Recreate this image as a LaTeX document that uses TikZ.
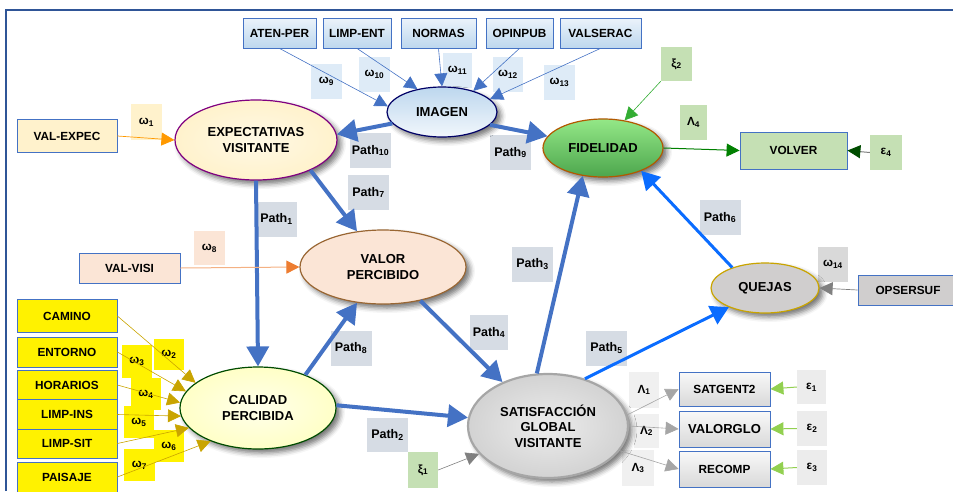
\documentclass[tikz,border=0pt]{standalone}
\usepackage{fontspec}
\setmainfont{Liberation Sans}
\usetikzlibrary{shapes.geometric,arrows.meta,shadows.blur}
\definecolor{framec}{HTML}{2F5597}
\definecolor{boxline}{HTML}{4472C4}
\definecolor{pathblue}{HTML}{4472C4}
\definecolor{brightblue}{HTML}{0A6CFF}
\definecolor{pathgrey}{HTML}{D6DCE4}
\definecolor{lightblue}{HTML}{DEEBF7}
\definecolor{midblue}{HTML}{BDD7EE}
\definecolor{cream}{HTML}{FFF2CC}
\definecolor{peach}{HTML}{FBE5D6}
\definecolor{peachline}{HTML}{F4B183}
\definecolor{orangehead}{HTML}{ED7D31}
\definecolor{gold}{HTML}{C9A400}
\definecolor{lgreen}{HTML}{C5E0B4}
\definecolor{greyfill}{HTML}{D0CECE}
\definecolor{greyline}{HTML}{A6A6A6}
\definecolor{epsgreen}{HTML}{92D050}
\begin{document}
\begin{tikzpicture}[x=1pt,y=-1pt,>={Triangle[length=13pt,width=13pt]},font=\bfseries\fontsize{11.8}{13}\selectfont,
  obs/.style={draw=boxline,line width=0.8pt,inner sep=0pt,align=center},
  lat/.style={ellipse,inner sep=0pt,align=center,font=\bfseries\fontsize{13}{15.5}\selectfont,
    blur shadow={shadow xshift=4pt,shadow yshift=-4pt,shadow blur radius=5pt,shadow opacity=55}},
  lbl/.style={inner sep=0pt,minimum width=31pt,minimum height=35pt},
  pathlbl/.style={lbl,fill=pathgrey,minimum width=41pt,font=\bfseries\fontsize{12.5}{14}\selectfont},
  bigarr/.style={line width=4pt,draw=pathblue,-{Triangle[length=20pt,width=22pt]}},
  bluearr/.style={line width=3pt,draw=brightblue,-{Triangle[length=18pt,width=20pt]}},
  thinarr/.style={line width=0.7pt,->}]
\useasboundingbox (0,0) rectangle (953,491);
\draw[framec,line width=1.2pt] (6,491) -- (6,10) -- (953,10);
% labels
\node[pathlbl] (p10) at (370.5,150.5) {Path\textsubscript{10}};
\node[pathlbl] (p7) at (368.5,192.5) {Path\textsubscript{7}};
\node[pathlbl] (p1) at (276.5,219) {Path\textsubscript{1}};
\node[pathlbl] (p9) at (510.5,152.5) {Path\textsubscript{9}};
\node[pathlbl] (p6) at (720,217.5) {Path\textsubscript{6}};
\node[pathlbl] (p3) at (532.5,264.5) {Path\textsubscript{3}};
\node[pathlbl] (p8) at (351,348) {Path\textsubscript{8}};
\node[pathlbl,minimum width=38pt] (p4) at (489,332.5) {Path\textsubscript{4}};
\node[pathlbl] (p5) at (606.5,348) {Path\textsubscript{5}};
\node[pathlbl,minimum height=34pt] (p2) at (387.5,435) {Path\textsubscript{2}};
\node[lbl,fill=lightblue] (w9) at (326.5,81.5) {ω\textsubscript{9}};
\node[lbl,fill=lightblue] (w10) at (374.5,74.5) {ω\textsubscript{10}};
\node[lbl,fill=lightblue,minimum width=29pt] (w11) at (457.5,70.5) {ω\textsubscript{11}};
\node[lbl,fill=lightblue,minimum width=30pt] (w12) at (508,74.5) {ω\textsubscript{12}};
\node[lbl,fill=lightblue] (w13) at (559.5,82.5) {ω\textsubscript{13}};
\node[lbl,fill=cream,minimum height=36pt] (w1) at (146.5,122) {ω\textsubscript{1}};
\node[lbl,fill=peach,minimum height=34pt] (w8) at (209.5,248) {ω\textsubscript{8}};
\node[lbl,fill=yellow,minimum width=30pt,minimum height=31pt] (w2) at (169,354.5) {ω\textsubscript{2}};
\node[lbl,fill=yellow,minimum width=30pt,minimum height=33pt] (w3) at (137,361.5) {ω\textsubscript{3}};
\node[lbl,fill=yellow,minimum width=30pt,minimum height=32pt] (w4) at (146,394) {ω\textsubscript{4}};
\node[lbl,fill=yellow,minimum width=30pt,minimum height=32pt] (w5) at (139,422) {ω\textsubscript{5}};
\node[lbl,fill=yellow,minimum width=30pt,minimum height=32pt] (w6) at (169,446) {ω\textsubscript{6}};
\node[lbl,fill=yellow,minimum width=31pt,minimum height=32pt] (w7) at (139.5,465) {ω\textsubscript{7}};
\node[lbl,fill=lgreen,minimum height=34pt] (xi2) at (676.5,64) {ξ\textsubscript{2}};
\node[lbl,fill=lgreen,minimum width=27pt] (l4) at (693.5,122.5) {Λ\textsubscript{4}};
\node[lbl,fill=lgreen,minimum width=32pt] (e4) at (886,152.5) {ε\textsubscript{4}};
\node[lbl,fill=lgreen,minimum width=30pt,minimum height=36pt] (xi1) at (423,470) {ξ\textsubscript{1}};
\node[lbl,fill=gray!30,minimum width=30pt] (w14) at (833,264.5) {ω\textsubscript{14}};
\node[lbl,fill=gray!12,minimum width=30pt,minimum height=36pt] (l1) at (644,390) {Λ\textsubscript{1}};
\node[lbl,fill=gray!12,minimum width=25pt,minimum height=34pt] (l2) at (646.5,431) {Λ\textsubscript{2}};
\node[lbl,fill=gray!12,minimum width=32pt,minimum height=36pt] (l3) at (638,468) {Λ\textsubscript{3}};
\node[lbl,fill=gray!15,minimum width=29pt,minimum height=34pt] (e1) at (811.5,387) {ε\textsubscript{1}};
\node[lbl,fill=gray!15,minimum width=30pt] (e2) at (812,428.5) {ε\textsubscript{2}};
\node[lbl,fill=gray!15,minimum width=30pt] (e3) at (812,467.5) {ε\textsubscript{3}};
% observed boxes
\node[obs,top color=lightblue!60,bottom color=midblue,minimum width=73pt,minimum height=30pt] (atenper) at (279.5,33) {ATEN-PER};
\node[obs,top color=lightblue!60,bottom color=midblue,minimum width=68pt,minimum height=30pt] (limpent) at (357,33) {LIMP-ENT};
\node[obs,top color=lightblue!60,bottom color=midblue,minimum width=75pt,minimum height=30pt] (normas) at (438.5,33) {NORMAS};
\node[obs,top color=lightblue!60,bottom color=midblue,minimum width=67pt,minimum height=30pt] (opinpub) at (519.5,33) {OPINPUB};
\node[obs,top color=lightblue!60,bottom color=midblue,minimum width=81pt,minimum height=30pt] (valserac) at (600.5,33) {VALSERAC};
\node[obs,fill=cream,minimum width=100pt,minimum height=33pt] (valexpec) at (67,136) {VAL-EXPEC};
\node[obs,fill=peach,minimum width=101pt,minimum height=30pt] (valvisi) at (129.5,268) {VAL-VISI};
\node[obs,fill=yellow,minimum width=100pt,minimum height=33pt] (camino) at (67,316) {CAMINO};
\node[obs,fill=yellow,minimum width=100pt,minimum height=30pt] (entorno) at (67,352) {ENTORNO};
\node[obs,fill=yellow,minimum width=100pt,minimum height=30pt] (horarios) at (67,385) {HORARIOS};
\node[obs,fill=yellow,minimum width=100pt,minimum height=30pt] (limpins) at (67,414.5) {LIMP-INS};
\node[obs,fill=yellow,minimum width=100pt,minimum height=29pt] (limpsit) at (67,443.5) {LIMP-SIT};
\node[obs,fill=yellow,minimum width=100pt,minimum height=30pt] (paisaje) at (67,477) {PAISAJE};
\node[obs,fill=lgreen,minimum width=107pt,minimum height=37pt] (volver) at (793.5,150.5) {VOLVER};
\node[obs,fill=greyfill,minimum width=100pt,minimum height=30pt] (opsersuf) at (908,290) {OPSERSUF};
\node[obs,top color=gray!5,bottom color=gray!30,minimum width=91pt,minimum height=34pt] (satgent) at (724.5,389) {SATGENT2};
\node[obs,top color=gray!5,bottom color=gray!30,minimum width=91pt,minimum height=36pt,font=\bfseries\fontsize{13}{14}\selectfont] (valorglo) at (724.5,429) {VALORGLO};
\node[obs,top color=gray!5,bottom color=gray!30,minimum width=91pt,minimum height=36pt] (recomp) at (724.5,469) {RECOMP};
% latent variables
\node[lat,draw=blue!40!black,line width=1.2pt,top color=midblue,bottom color=lightblue!40,minimum width=110pt,minimum height=50pt] (imagen) at (442,112) {IMAGEN};
\node[lat,draw=violet,line width=1.2pt,inner color=cream!50,outer color=cream,minimum width=162pt,minimum height=80pt] (expect) at (256,140) {EXPECTATIVAS\\VISITANTE};
\node[lat,draw=orange!70!black,line width=1.2pt,top color=green!25!lgreen,bottom color=green!50!black!70,minimum width=120pt,minimum height=58pt] (fidel) at (603,148) {FIDELIDAD};
\node[lat,draw=brown!80!black,line width=1.2pt,fill=peach,minimum width=166pt,minimum height=74pt] (valor) at (383,267) {VALOR\\PERCIBIDO};
\node[lat,draw=green!30!black,line width=1.2pt,inner color=yellow!8,outer color=yellow!22,minimum width=156pt,minimum height=82pt] (calidad) at (258,408) {CALIDAD\\PERCIBIDA};
\node[lat,draw=greyline,line width=2.2pt,inner color=gray!15,outer color=gray!35,minimum width=160pt,minimum height=104pt] (satis) at (548,426) {SATISFACCIÓN\\GLOBAL\\VISITANTE};
\node[lat,draw=gold,line width=1.2pt,fill=greyfill,minimum width=108pt,minimum height=50pt] (quejas) at (765,288) {QUEJAS};
% structural paths
\draw[bigarr] (imagen.193) -- (expect.4);
\draw[bigarr] (imagen.345) -- (fidel.168);
\draw[bigarr] (expect.south) -- (calidad.north);
\draw[bigarr] (expect.331) -- (valor.126);
\draw[bigarr] (calidad.35) -- (valor.234);
\draw[bigarr] (calidad.2) -- (satis.174);
\draw[bigarr] (valor.318) -- (satis.136);
\draw[bigarr] (satis.102) -- (fidel.234);
\draw[bluearr] (satis.52) -- (quejas.208);
\draw[bluearr] (quejas.148) -- (fidel.329);
% indicators
\foreach \b/\a in {atenper/174,limpent/137,normas/90,opinpub/34,valserac/15}
  \draw[thinarr,pathblue,line width=0.6pt] (\b.south) -- (imagen.\a);
\foreach \b/\a in {camino/158,entorno/167,horarios/176,limpins/186,limpsit/196,paisaje/215}
  \draw[thinarr,gold,line width=0.6pt] (\b.east) -- (calidad.\a);
\draw[thinarr,orange!80!yellow] (valexpec.east) -- (expect.west);
\draw[line width=1pt,peachline,-{Triangle[length=13pt,width=13pt,color=orangehead]}] (valvisi.east) -- (valor.west);
\draw[thinarr,green!60!black!80,line width=0.6pt] (xi2.south west) -- (fidel.52);
\draw[thinarr,green!50!black,line width=1pt] (fidel.east) -- (volver.west);
\draw[line width=1pt,gray,-{Triangle[length=13pt,width=13pt,color=green!30!black]}] (e4.west) -- (volver.east);
\draw[thinarr,gray] (opsersuf.west) -- (quejas.east);
\draw[thinarr,greyline,line width=0.6pt] (satis.8) -- (satgent.west);
\draw[thinarr,greyline,line width=0.6pt] (satis.east) -- (valorglo.west);
\draw[thinarr,greyline,line width=0.6pt] (satis.341) -- (recomp.west);
\draw[thinarr,gray,line width=0.6pt] (xi1.east) -- (satis.202);
\foreach \e/\b in {e1/satgent,e2/valorglo,e3/recomp}
  \draw[thinarr,epsgreen,line width=1pt] (\e.west) -- (\b.east);
\end{tikzpicture}
\end{document}
